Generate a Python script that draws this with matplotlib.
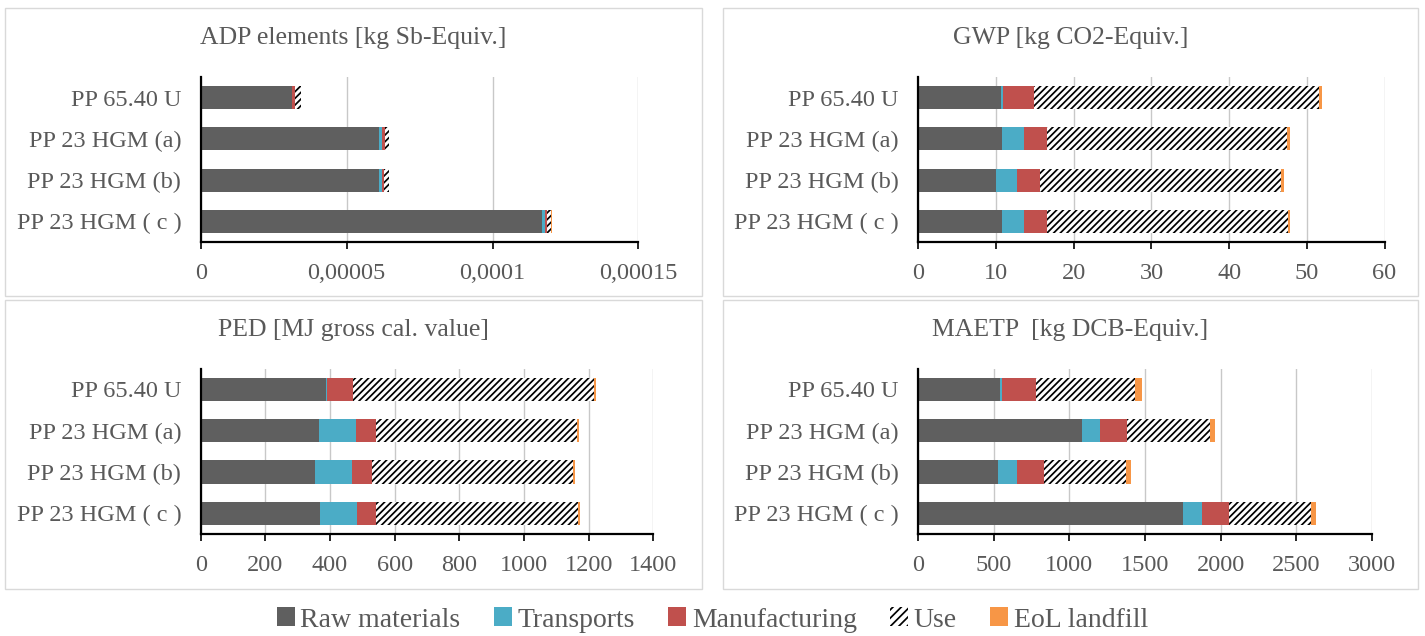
import matplotlib
matplotlib.use("Agg")
import matplotlib.pyplot as plt
from matplotlib.patches import Rectangle, Patch

plt.rcParams['font.family'] = ['Liberation Serif', 'DejaVu Serif']
plt.rcParams['hatch.linewidth'] = 1.25

categories = ["PP 65.40 U", "PP 23 HGM (a)", "PP 23 HGM (b)", "PP 23 HGM ( c )"]
stages = ["Raw materials", "Transports", "Manufacturing", "Use", "EoL landfill"]

# values per stage, in category order (top to bottom)
adp_raw = [3.13e-5, 6.12e-5, 6.12e-5, 1.170e-4]
adp_trans = [0.05e-6, 0.9e-6, 0.8e-6, 0.9e-6]
adp_manu = [0.9e-6, 0.9e-6, 0.8e-6, 0.7e-6]
adp_use = [2.0e-6, 1.4e-6, 1.6e-6, 1.6e-6]
adp_eol = [0.05e-6, 0.2e-6, 0.1e-6, 0.2e-6]

gwp_raw = [10.6, 10.8, 10.0, 10.8]
gwp_trans = [0.3, 2.75, 2.75, 2.8]
gwp_manu = [3.95, 3.05, 2.95, 3.0]
gwp_use = [36.7, 30.9, 31.0, 30.95]
gwp_eol = [0.43, 0.34, 0.34, 0.3]

ped_raw = [387, 366, 354, 369]
ped_trans = [4, 114, 113, 113]
ped_manu = [80, 61, 63, 61]
ped_use = [744, 624, 620, 624]
ped_eol = [9, 5, 8, 5]

maetp_raw = [543, 1083, 527, 1751]
maetp_trans = [9, 121, 124, 124]
maetp_manu = [227, 179, 179, 179]
maetp_use = [657, 547, 545, 545]
maetp_eol = [42, 33, 35, 35]

colors = ["#5f5f5f", "#4bacc6", "#c0504d", "white", "#f79646"]
text_col = "#595959"

W, H = 1425, 636
fig = plt.figure(figsize=(W / 100, H / 100), dpi=100)


def px_box(x0, y0, x1, y1):
    return [x0 / W, 1 - y1 / H, (x1 - x0) / W, (y1 - y0) / H]


def panel(box, axbox, title, series, ticks, ticklabels):
    fig.patches.append(Rectangle((box[0], box[1]), box[2], box[3], transform=fig.transFigure,
                                 fill=False, edgecolor="#d9d9d9", linewidth=1))
    ax = fig.add_axes(axbox)
    ypos = list(range(len(categories)))[::-1]
    left = [0] * len(categories)
    for vals, c, st in zip(series, colors, stages):
        if st == "Use":
            ax.barh(ypos, vals, left=left, height=0.56, color="white", edgecolor="black",
                    hatch="/////", linewidth=0, zorder=3)
        else:
            ax.barh(ypos, vals, left=left, height=0.56, color=c, linewidth=0, zorder=3)
        left = [a + b for a, b in zip(left, vals)]
    ax.set_ylim(-0.5, 3.5)
    ax.set_xlim(ticks[0], ticks[-1])
    ax.set_xticks(ticks)
    ax.set_xticklabels(ticklabels)
    ax.set_yticks(ypos)
    ax.set_yticklabels(categories)
    ax.tick_params(axis="y", length=0, pad=14, labelsize=17.5, labelcolor=text_col)
    ax.tick_params(axis="x", length=5, width=1.2, direction="out", pad=10,
                   labelsize=17.5, labelcolor=text_col)
    ax.grid(axis="x", color="#c8c8c8", linewidth=1, zorder=0)
    ax.set_axisbelow(True)
    for s in ["top", "right"]:
        ax.spines[s].set_visible(False)
    ax.spines["left"].set_linewidth(1.6)
    ax.spines["bottom"].set_linewidth(1.6)
    ax.spines["left"].set_zorder(4)
    # title centered on panel box
    tx = box[0] + box[2] / 2
    ty = box[1] + box[3] - 30 / H
    fig.text(tx, ty, title, ha="center", va="center", fontsize=18.5, color=text_col)
    return ax


top = (8, 296)
bot = (300, 589)
panel(px_box(5, top[0], 702, top[1]), px_box(200.7, 77, 638.4, 242),
      "ADP elements [kg Sb-Equiv.]",
      [adp_raw, adp_trans, adp_manu, adp_use, adp_eol],
      [0, 0.00005, 0.0001, 0.00015], ["0", "0,00005", "0,0001", "0,00015"])
panel(px_box(723, top[0], 1418, top[1]), px_box(918.3, 77, 1384.5, 242),
      "GWP [kg CO2-Equiv.]",
      [gwp_raw, gwp_trans, gwp_manu, gwp_use, gwp_eol],
      [0, 10, 20, 30, 40, 50, 60], ["0", "10", "20", "30", "40", "50", "60"])
panel(px_box(5, bot[0], 702, bot[1]), px_box(200.7, 368.6, 653.4, 534),
      "PED [MJ gross cal. value]",
      [ped_raw, ped_trans, ped_manu, ped_use, ped_eol],
      list(range(0, 1401, 200)), [str(v) for v in range(0, 1401, 200)])
panel(px_box(723, bot[0], 1418, bot[1]), px_box(918.3, 368.6, 1371.6, 534),
      "MAETP  [kg DCB-Equiv.]",
      [maetp_raw, maetp_trans, maetp_manu, maetp_use, maetp_eol],
      list(range(0, 3001, 500)), [str(v) for v in range(0, 3001, 500)])

handles = []
for st, c in zip(stages, colors):
    if st == "Use":
        handles.append(Patch(facecolor="white", edgecolor="black", hatch="////", linewidth=0, label=st))
    else:
        handles.append(Patch(facecolor=c, linewidth=0, label=st))
fig.legend(handles=handles, loc="center", bbox_to_anchor=(0.5, 1 - 620 / H), ncol=5,
           frameon=False, fontsize=20, handlelength=0.65, handleheight=0.65,
           handletextpad=0.2, columnspacing=1.2, labelcolor=text_col)

fig.savefig("out.png", dpi=100)
